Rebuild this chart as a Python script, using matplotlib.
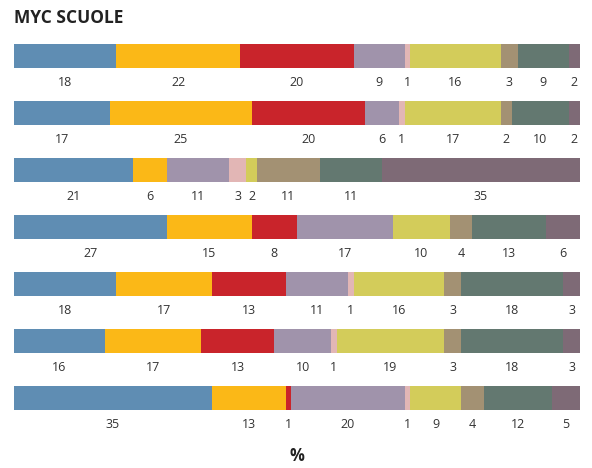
import matplotlib
matplotlib.use("Agg")
import matplotlib.pyplot as plt
import numpy as np

# Segment values for each bar (top to bottom), in %
rows = [
    [18, 22, 20, 9, 1, 16, 3, 9, 2],
    [17, 25, 20, 6, 1, 17, 2, 10, 2],
    [21, 6, 0, 11, 3, 2, 11, 11, 35],
    [27, 15, 8, 17, 0, 10, 4, 13, 6],
    [18, 17, 13, 11, 1, 16, 3, 18, 3],
    [16, 17, 13, 10, 1, 19, 3, 18, 3],
    [35, 13, 1, 20, 1, 9, 4, 12, 5],
]

colors = ["#5f8db3", "#fbb817", "#c9242b", "#a093ab", "#e2b6b5",
          "#d3cc5a", "#a39173", "#637870", "#7e6a76"]

plt.rcParams['font.family'] = ['Open Sans', 'DejaVu Sans']

fig = plt.figure(figsize=(5.92, 4.68), dpi=100)
ax = fig.add_axes([14 / 592, 0.0887, 566 / 592, 0.9412 - 0.0887])

data = np.array(rows, dtype=float)
y = np.arange(len(rows))

left = np.zeros(len(rows))
for j, c in enumerate(colors):
    ax.barh(y, data[:, j], left=left, height=0.41, color=c, linewidth=0)
    for i in range(len(rows)):
        v = data[i, j]
        if v > 0:
            ax.text(left[i] + v / 2, y[i] + 0.46, "%d" % v, ha="center",
                    va="center", fontsize=9, color="#333333")
    left += data[:, j]

ax.set_xlim(0, 100)
ax.set_ylim(6.5, -0.5)
ax.axis("off")

fig.text(14 / 592, 1 - 18 / 468, "MYC SCUOLE", fontsize=12.5, fontweight="bold",
         color="#222222", ha="left", va="center")
fig.text(297 / 592, 1 - 456 / 468, "%", fontsize=12, fontweight="bold",
         color="#222222", ha="center", va="center")

fig.savefig("out.png", dpi=100)
